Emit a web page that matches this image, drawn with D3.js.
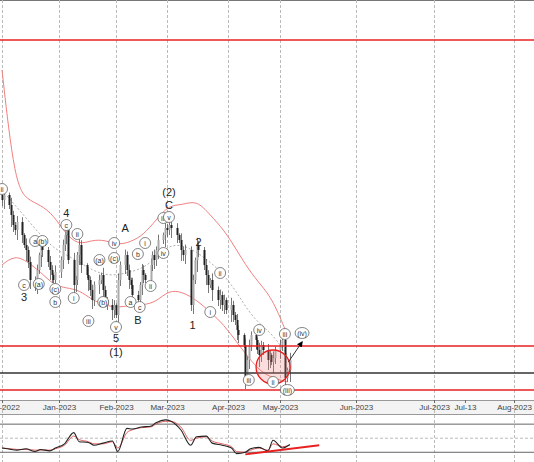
<!DOCTYPE html>
<html>
<head>
<meta charset="utf-8">
<script src="https://cdn.jsdelivr.net/npm/d3@7"></script>
<style>
  body { margin: 0; background: #fff; }
  text { font-family: "Liberation Sans", Arial, sans-serif; }
</style>
</head>
<body>
<svg id="chart" width="534" height="462"></svg>
<script>
// closes per month (chart price units)
var closeDec = [200,205,195,185,175,170,178,165,155,150,138,120,115,130,145,155,150,138,130,125,120,128];
var closeJan = [140,155,165,170,140,115,120,145,155,135,125,120,110,100,115,120,125,110,100,95,90,95];
var closeFeb = [85,120,135,145,130,120,115,105,100,115,130,125,120,135,145,140,150,160,165,172];
var closeMar = [170,175,172,165,160,150,145,150,95,120,140,155,150,135,125,115,120,110,100,105,95,100,90];
var closeApr = [95,85,80,70,65,55,22,40,55,65,60,50,45,55,50,40,45,38,42,50];
var closeMay = [55,60,22,30,40];
var wicks = [6,9,4,12,7,5,10,8,3,11,6,9];

// bands sampled every 5 candles
var bandUpper = [330,215,200,195,185,165,155,160,160,155,158,165,180,195,195,200,185,170,150,130,115,100,65];
var bandMid   = [210,195,180,165,152,145,138,130,125,125,128,132,142,155,155,148,138,125,108,88,75,65,45];
var bandLower = [135,145,138,128,115,112,110,100,95,92,95,95,98,110,108,100,88,75,58,42,28,22,18];

// RSI sampled every 3 candles
var rsi =    [36,34,33,35,31,34,32,36,42,58,45,44,40,43,46,31,64,63,66,67,72,76,74,62,40,52,53,43,40,36,28,30,35,37,32,47,36,41];
var rsiSig = [36,35,34,34,33,33,33,35,40,53,48,45,42,42,45,36,58,62,65,66,70,74,74,66,47,50,52,46,42,38,31,30,33,36,33,42,38,40];

var redLevels = [360, 54, 10];
var blackLevel = 27;

var monthTicks = ["2022-12-01","2023-01-01","2023-02-01","2023-03-01","2023-04-01","2023-05-01","2023-06-01","2023-07-01","2023-08-01"];
var extraTick = "2023-07-13";

// wave labels: [candle index, price, text, circled]
var waveLabels = [
  [0,211,"ii",1],[8,115,"c",1],[12,159,"a",1],[16,159,"(b)",1],[14,116,"(a)",1],
  [21,111,"(c)",1],[21,98,"b",1],[25,175,"c",1],[29,166,"ii",1],[27,102,"i",1],
  [33,79,"iii",1],[37,140,"(a)",1],[39,98,"(b)",1],[43,142,"(c)",1],[43,157,"iv",1],
  [44,73,"v",1],[50,98,"a",1],[52,146,"b",1],[53,93,"c",1],[56,157,"i",1],[57,114,"ii",1],
  [62,182,"iii",1],[65,183,"v",1],[62,147,"iv",1],[83,127,"ii",1],[80,88,"i",1],
  [99,70,"iv",1],[95,20,"iii",1],[109,66,"iii",1],[105,18,"ii",1],[110,10,"(iii)",1],[114,67,"(iv)",1]
];
var bigLabels = [
  [8,103,"3"],[25,187,"4"],[44,62,"5"],[44,48,"(1)"],[47,172,"A"],[52,80,"B"],
  [65,208,"(2)"],[65,195,"C"],[73,75,"1"],[76,158,"2"]
];

var svg = d3.select("#chart");
var W = 534;

var closes = closeDec.concat(closeJan, closeFeb, closeMar, closeApr, closeMay);
var allDays = d3.timeDay.range(new Date(2022, 11, 1), new Date(2023, 5, 1))
  .filter(function(d) { return d.getDay() !== 0 && d.getDay() !== 6; });

var tickDates = monthTicks.map(function(s) { return d3.timeParse("%Y-%m-%d")(s); });
var jul13 = d3.timeParse("%Y-%m-%d")(extraTick);

var x = d3.scaleTime()
  .domain(tickDates)
  .range([2, 59, 116, 167, 228, 280, 356, 434, 514]);
var y = d3.scaleLinear().domain([0, 400]).range([400, 0]);
var yR = d3.scaleLinear().domain([19, 83]).range([460, 415]);
var xi = function(i) { return x(allDays[i]); };

// frame
svg.append("rect").attr("width", W).attr("height", 462).attr("fill", "#fff");
svg.append("line").attr("x1", 0).attr("x2", W).attr("y1", 0.5).attr("y2", 0.5).attr("stroke", "#777");
svg.append("rect").attr("x", 0).attr("y", 400).attr("width", W).attr("height", 14).attr("fill", "#f3f3f3");
svg.append("line").attr("x1", 0).attr("x2", W).attr("y1", 400.5).attr("y2", 400.5).attr("stroke", "#999");
svg.append("line").attr("x1", 0).attr("x2", W).attr("y1", 414.5).attr("y2", 414.5).attr("stroke", "#999");

// vertical grid
svg.append("g").selectAll("line").data(tickDates).join("line")
  .attr("x1", function(d) { return Math.round(x(d)) + 0.5; })
  .attr("x2", function(d) { return Math.round(x(d)) + 0.5; })
  .attr("y1", 0).attr("y2", 462)
  .attr("stroke", "#bbb").attr("stroke-dasharray", "3,2");

// x axis labels
var axis = d3.axisBottom(x).tickValues(tickDates.concat([jul13]))
  .tickFormat(function(d) { return +d === +jul13 ? "Jul-13" : d3.timeFormat("%b-%Y")(d); })
  .tickSize(3);
var ga = svg.append("g").attr("transform", "translate(0,400)").call(axis);
ga.select(".domain").remove();
ga.selectAll("text").attr("font-size", 8).attr("fill", "#444").attr("dy", "0.55em");
ga.selectAll("line").attr("stroke", "#666");

// bands
var bandLine = d3.line().x(function(d, i) { return xi(i * 5); }).y(function(d) { return y(d); }).curve(d3.curveBasis);
svg.append("path").attr("d", bandLine(bandUpper)).attr("fill", "none").attr("stroke", "#f08080").attr("stroke-width", 1);
svg.append("path").attr("d", bandLine(bandLower)).attr("fill", "none").attr("stroke", "#f08080").attr("stroke-width", 1);
svg.append("path").attr("d", bandLine(bandMid)).attr("fill", "none").attr("stroke", "#999").attr("stroke-dasharray", "2,2").attr("stroke-width", 0.8);

// candles
var cg = svg.append("g");
closes.forEach(function(c, i) {
  var o = i === 0 ? c + 5 : closes[i - 1];
  var w = wicks[i % wicks.length];
  var hi = Math.max(o, c) + w * 0.6, lo = Math.min(o, c) - w;
  var cx = Math.round(xi(i)) + 0.5;
  cg.append("line").attr("x1", cx).attr("x2", cx).attr("y1", y(hi)).attr("y2", y(lo)).attr("stroke", "#555").attr("stroke-width", 0.8);
  cg.append("rect").attr("x", cx - 1).attr("width", 2)
    .attr("y", y(Math.max(o, c))).attr("height", Math.max(1, Math.abs(y(o) - y(c))))
    .attr("fill", c >= o ? "#aaa" : "#222");
});

// horizontal levels
svg.append("g").selectAll("line").data(redLevels).join("line")
  .attr("x1", 0).attr("x2", W).attr("y1", y).attr("y2", y)
  .attr("stroke", "#e82020").attr("stroke-width", 1.6);
svg.append("line").attr("x1", 0).attr("x2", W).attr("y1", y(blackLevel)).attr("y2", y(blackLevel))
  .attr("stroke", "#333").attr("stroke-width", 1.6);

// highlight circle and arrow
svg.append("circle").attr("cx", xi(105)).attr("cy", y(33)).attr("r", 17)
  .attr("fill", "rgba(240,120,120,0.25)").attr("stroke", "#e82020").attr("stroke-width", 1.3);
svg.append("defs").append("marker").attr("id", "ah").attr("viewBox", "0 0 10 10")
  .attr("refX", 8).attr("refY", 5).attr("markerWidth", 6).attr("markerHeight", 6).attr("orient", "auto")
  .append("path").attr("d", "M0,0L10,5L0,10z").attr("fill", "#000");
svg.append("line").attr("x1", xi(110) + 1).attr("y1", y(38)).attr("x2", xi(114)).attr("y2", y(58))
  .attr("stroke", "#333").attr("marker-end", "url(#ah)");

// wave labels
var lg = svg.append("g");
waveLabels.forEach(function(l) {
  var cx = xi(l[0]), cy = y(l[1]);
  var r = l[2].length > 3 ? 7 : 5.5;
  lg.append(l[2].length > 3 ? "ellipse" : "circle")
    .attr("cx", cx).attr("cy", cy).attr("r", r).attr("rx", r).attr("ry", 5.5)
    .attr("fill", "#fff").attr("stroke", "#666").attr("stroke-width", 0.8);
  lg.append("text").attr("x", cx).attr("y", cy + 2.5).attr("text-anchor", "middle")
    .attr("font-size", 7).attr("font-family", "Liberation Serif, serif").attr("fill", "#333").text(l[2]);
});
bigLabels.forEach(function(l) {
  lg.append("text").attr("x", xi(l[0])).attr("y", y(l[1]) + 4).attr("text-anchor", "middle")
    .attr("font-size", 11).attr("fill", "#222").text(l[2]);
});

// RSI panel
[70, 30].forEach(function(v) {
  svg.append("line").attr("x1", 0).attr("x2", W).attr("y1", yR(v)).attr("y2", yR(v)).attr("stroke", "#666");
});
svg.append("line").attr("x1", 0).attr("x2", W).attr("y1", yR(50)).attr("y2", yR(50)).attr("stroke", "#bbb").attr("stroke-dasharray", "3,2");
var rLine = d3.line().x(function(d, i) { return xi(Math.min(i * 3, closes.length - 1)); }).y(yR).curve(d3.curveMonotoneX);
svg.append("path").attr("d", rLine(rsiSig)).attr("fill", "none").attr("stroke", "#e06060").attr("stroke-width", 1);
svg.append("path").attr("d", rLine(rsi)).attr("fill", "none").attr("stroke", "#222").attr("stroke-width", 1.1);
svg.append("line").attr("x1", xi(93)).attr("y1", yR(27)).attr("x2", xi(119)).attr("y2", yR(40))
  .attr("stroke", "#e82020").attr("stroke-width", 2);
</script>
</body>
</html>
